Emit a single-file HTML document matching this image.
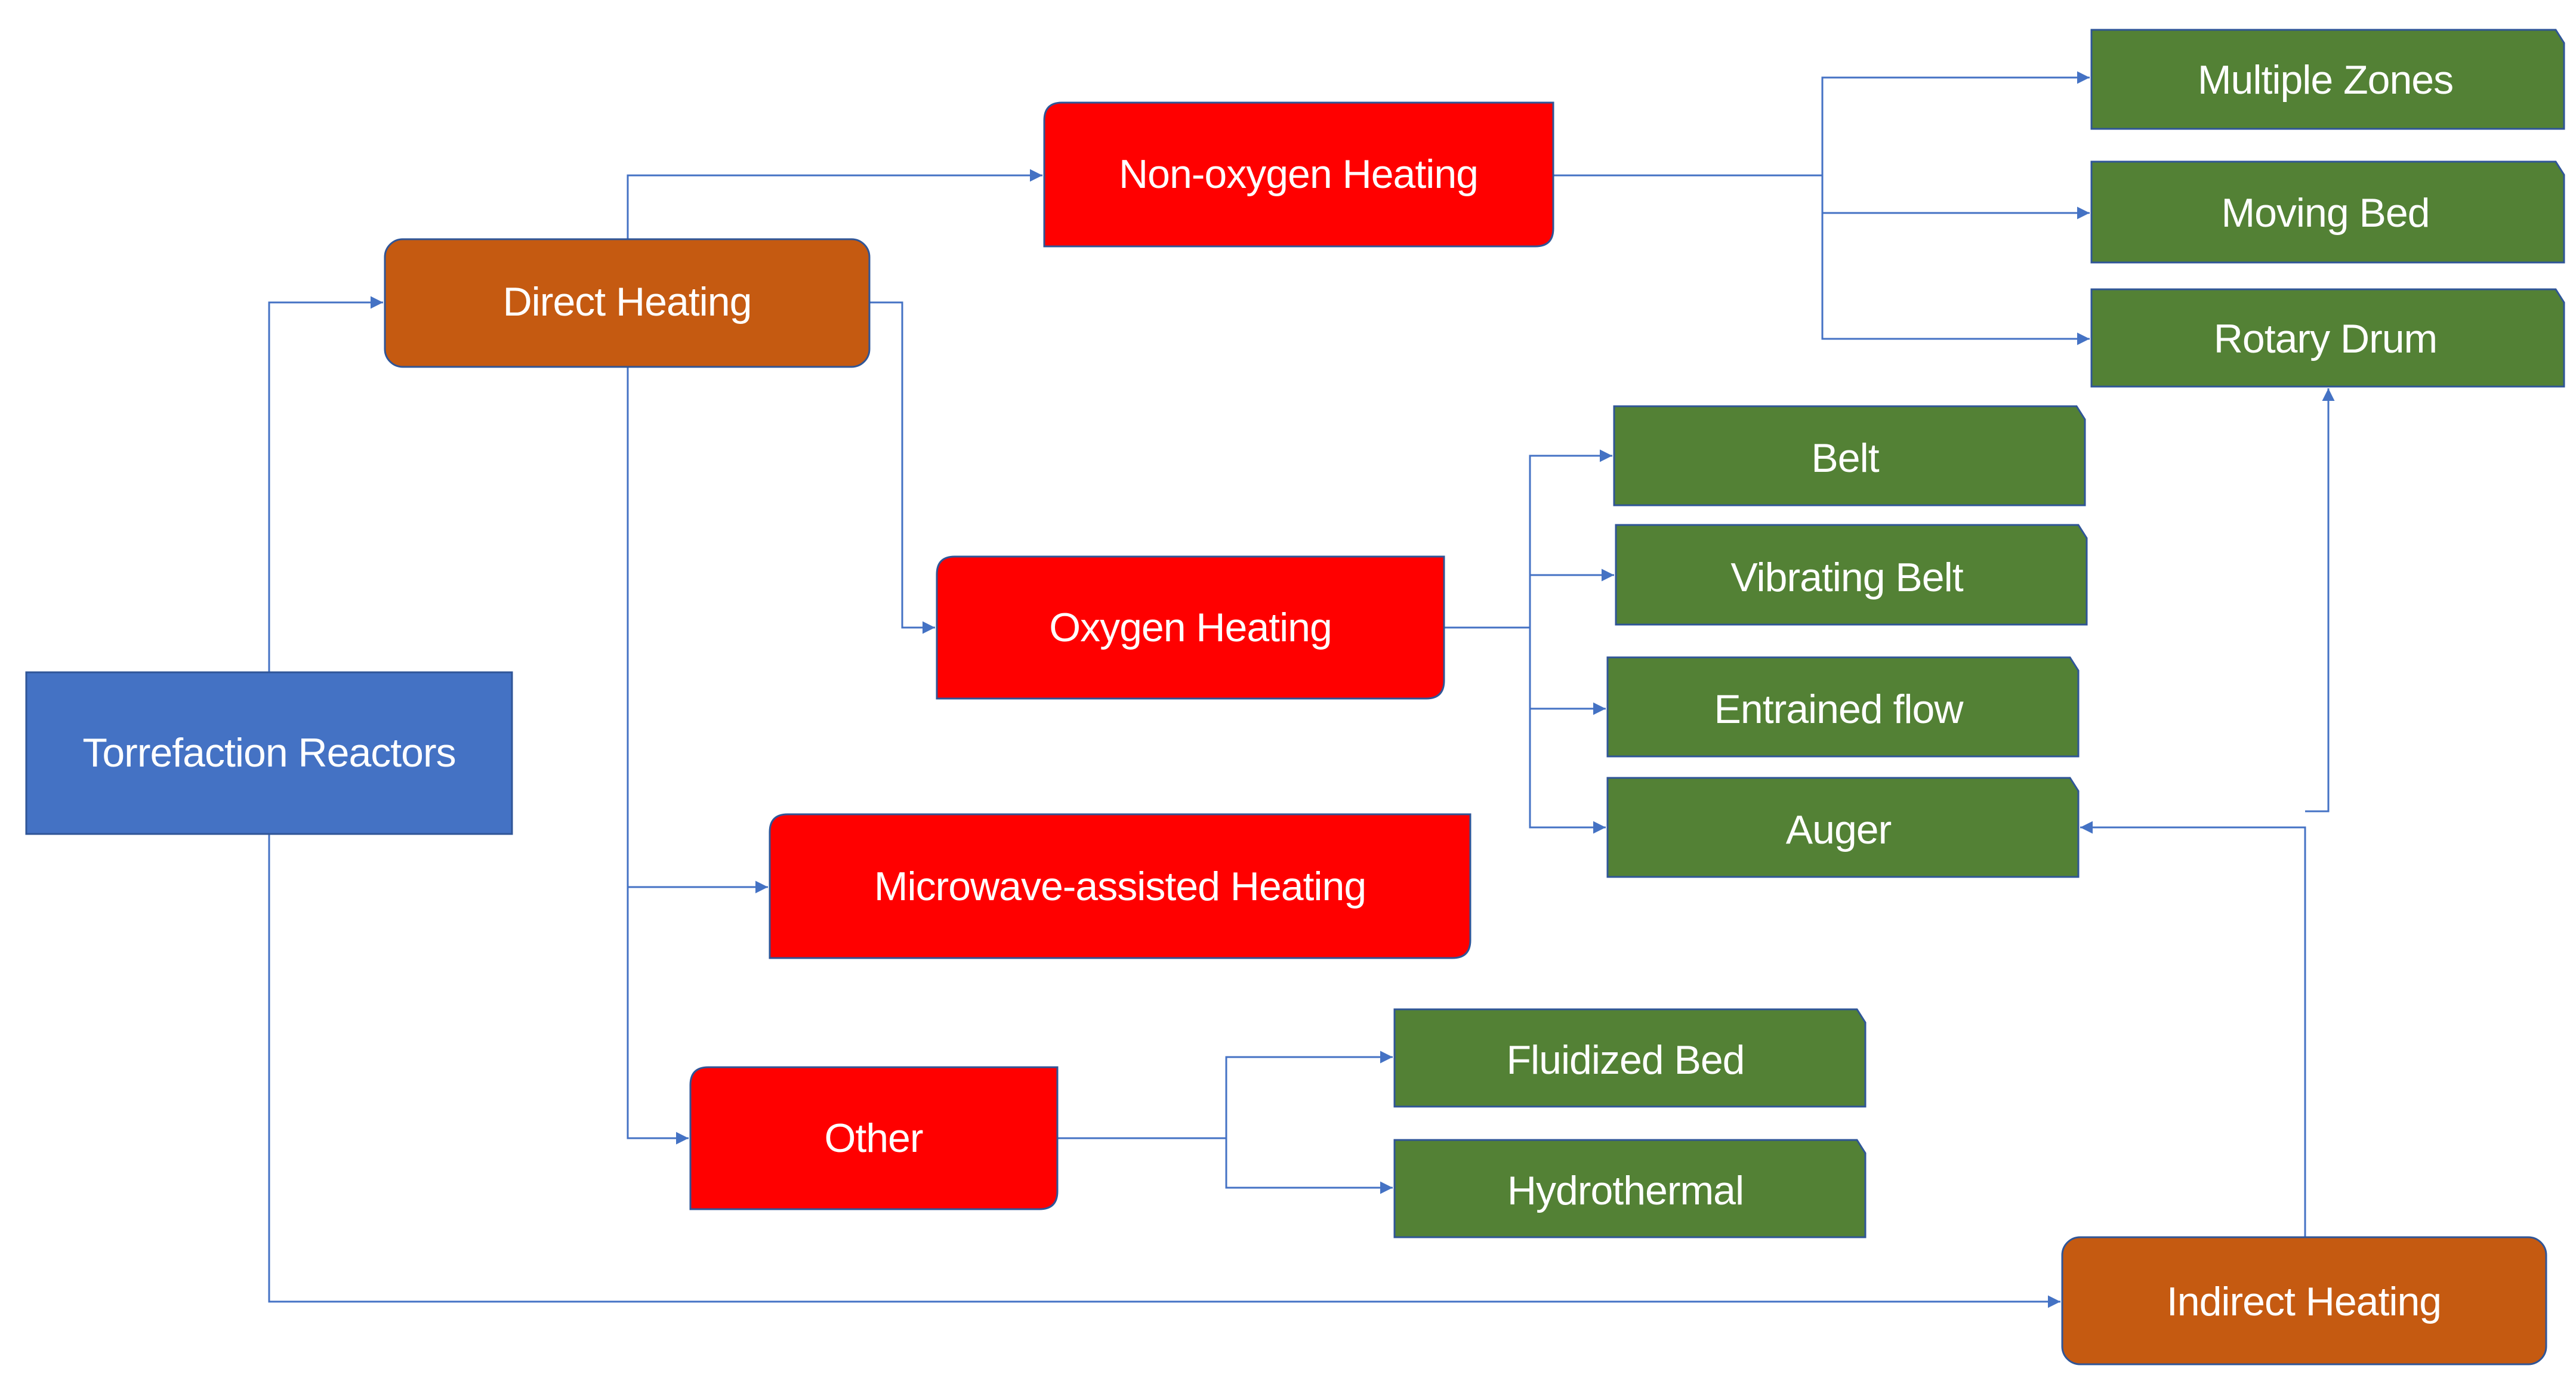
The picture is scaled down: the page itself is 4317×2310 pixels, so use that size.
<!DOCTYPE html>
<html><head><meta charset="utf-8"><style>
html,body{margin:0;padding:0;background:#fff;}
svg{display:block;}
text{font-family:"Liberation Sans",sans-serif;font-size:68px;fill:#fff;text-anchor:middle;dominant-baseline:central;letter-spacing:-1px;}
</style></head><body>
<svg width="4317" height="2310" viewBox="0 0 4317 2310" xmlns="http://www.w3.org/2000/svg">
<defs>
<marker id="a" viewBox="0 0 10 10" refX="10" refY="5" markerWidth="7" markerHeight="7" markerUnits="strokeWidth" orient="auto">
<path d="M0,0 L10,5 L0,10 z" fill="#4472C4"/></marker>
</defs>
<g fill="none" stroke="#4472C4" stroke-width="3">
<polyline points="451,1127 451,507 642,507" marker-end="url(#a)"/>
<polyline points="451,1398 451,2182 3453,2182" marker-end="url(#a)"/>
<polyline points="1052,401 1052,294 1747,294" marker-end="url(#a)"/>
<polyline points="1457,507 1512,507 1512,1052 1567,1052" marker-end="url(#a)"/>
<polyline points="1052,615 1052,1908 1154,1908" marker-end="url(#a)"/>
<polyline points="1052,1487 1287,1487" marker-end="url(#a)"/>
<polyline points="2603,294 3054,294"/>
<polyline points="3054,357 3054,130 3502,130" marker-end="url(#a)"/>
<polyline points="3054,357 3502,357" marker-end="url(#a)"/>
<polyline points="3054,294 3054,568 3502,568" marker-end="url(#a)"/>
<polyline points="2420,1052 2564,1052"/>
<polyline points="2564,1052 2564,764 2702,764" marker-end="url(#a)"/>
<polyline points="2564,964 2705,964" marker-end="url(#a)"/>
<polyline points="2564,1052 2564,1387 2691,1387" marker-end="url(#a)"/>
<polyline points="2564,1188 2691,1188" marker-end="url(#a)"/>
<polyline points="1772,1908 2055,1908"/>
<polyline points="2055,1908 2055,1772 2334,1772" marker-end="url(#a)"/>
<polyline points="2055,1908 2055,1991 2334,1991" marker-end="url(#a)"/>
<polyline points="3863,2074 3863,1387 3486,1387" marker-end="url(#a)"/>
<polyline points="3863,1360 3902,1360 3902,651" marker-end="url(#a)"/>
</g>
<g stroke="#2F5597" stroke-width="3">
<rect x="44" y="1127" width="814" height="271" fill="#4472C4"/>
<rect x="645" y="401" width="812" height="214" rx="30" fill="#C55A11"/>
<rect x="3456" y="2074" width="811" height="213" rx="30" fill="#C55A11"/>
<path d="M1780,172 H2603 V383 Q2603,413 2573,413 H1750 V202 Q1750,172 1780,172 Z" fill="#FF0000"/>
<path d="M1600,933 H2420 V1141 Q2420,1171 2390,1171 H1570 V963 Q1570,933 1600,933 Z" fill="#FF0000"/>
<path d="M1320,1365 H2464 V1576 Q2464,1606 2434,1606 H1290 V1395 Q1290,1365 1320,1365 Z" fill="#FF0000"/>
<path d="M1187,1789 H1772 V1997 Q1772,2027 1742,2027 H1157 V1819 Q1157,1789 1187,1789 Z" fill="#FF0000"/>
<g fill="#538135">
<path d="M3505,50 H4283 L4297,72 V216 H3505 Z"/>
<path d="M3505,271 H4283 L4297,293 V440 H3505 Z"/>
<path d="M3505,485 H4283 L4297,507 V648 H3505 Z"/>
<path d="M2705,681 H3480 L3494,703 V847 H2705 Z"/>
<path d="M2708,880 H3483 L3497,902 V1047 H2708 Z"/>
<path d="M2694,1102 H3469 L3483,1124 V1268 H2694 Z"/>
<path d="M2694,1304 H3469 L3483,1326 V1470 H2694 Z"/>
<path d="M2337,1692 H3112 L3126,1714 V1855 H2337 Z"/>
<path d="M2337,1911 H3112 L3126,1933 V2074 H2337 Z"/>
</g>
</g>
<text x="451" y="1262">Torrefaction Reactors</text>
<text x="1051" y="506">Direct Heating</text>
<text x="3861" y="2182">Indirect Heating</text>
<text x="2176" y="292">Non-oxygen Heating</text>
<text x="1995" y="1052">Oxygen Heating</text>
<text x="1877" y="1486">Microwave-assisted Heating</text>
<text x="1464" y="1908">Other</text>
<text x="3897" y="134">Multiple Zones</text>
<text x="3897" y="357">Moving Bed</text>
<text x="3897" y="568">Rotary Drum</text>
<text x="3092" y="768">Belt</text>
<text x="3095" y="968">Vibrating Belt</text>
<text x="3081" y="1189">Entrained flow</text>
<text x="3081" y="1391">Auger</text>
<text x="2724" y="1777">Fluidized Bed</text>
<text x="2724" y="1996">Hydrothermal</text>
</svg>
</body></html>
